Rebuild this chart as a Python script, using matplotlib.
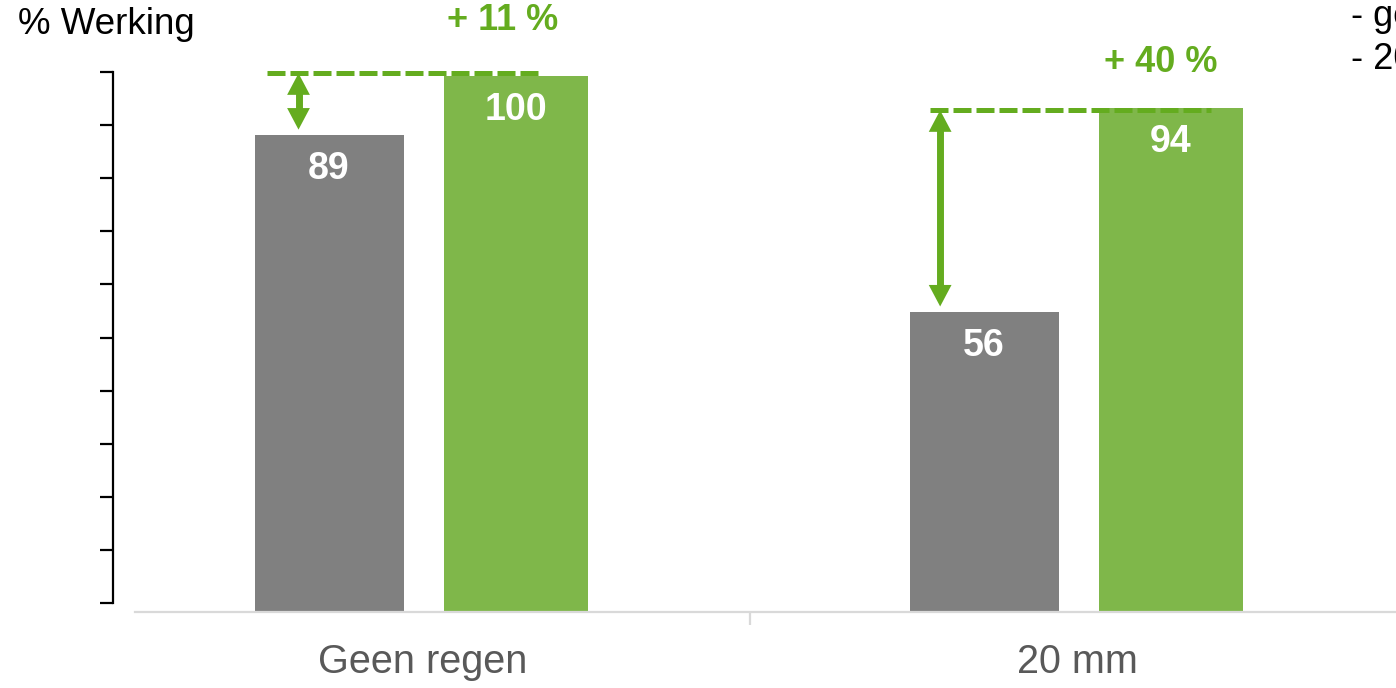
import matplotlib
matplotlib.use("Agg")
import matplotlib.pyplot as plt
from matplotlib.patches import FancyArrowPatch
from matplotlib.patches import ArrowStyle

plt.rcParams['font.family'] = ['Liberation Sans', 'DejaVu Sans']

# ---- data ----
categories = ["Geen regen", "20 mm"]
grey_values = [89, 56]
green_values = [100, 94]
gain_labels = ["+ 11 %", "+ 40 %"]
legend_lines = ["- geen regen", "- 20 mm regen"]
y_axis_title = "% Werking"

# ---- style ----
GREY = "#808080"
GREEN = "#7FB74A"
DARK_GREEN = "#64AC1F"
LABEL_GREY = "#595959"
AXIS_GREY = "#D9D9D9"

W, H = 1396, 688
fig = plt.figure(figsize=(W / 100, H / 100), dpi=100)

# main axes (pixel geometry converted to figure fractions)
left_px, right_px, bottom_px, top_px = 95, 1405, 612, 76
ax = fig.add_axes([left_px / W, (H - bottom_px) / H,
                   (right_px - left_px) / W, (bottom_px - top_px) / H])
ax.set_xlim(-0.5, 1.5)
ax.set_ylim(0, 100)
ax.patch.set_visible(False)

x = list(range(len(categories)))
off = 0.1427
gx = [i - off for i in x]
nx = [i + off for i in x]
ax.bar(gx, grey_values, width=0.2275, color=GREY, zorder=2)
ax.bar(nx, green_values, width=0.22, color=GREEN, zorder=2)

for xs, vals in ((gx, grey_values), (nx, green_values)):
    for xi, v in zip(xs, vals):
        ax.annotate(str(v), (xi, v), xytext=(0, -24.5), textcoords="offset points",
                    ha="center", va="center", color="white", fontsize=27,
                    fontweight="bold", zorder=4)

# dashed reference lines, arrows and gain labels
dash_start = [-0.094, -0.0825]
dash_end = [0.038, 0.061]
dash_dy = [0.5, -0.4]
arrow_off = [-0.0466, -0.067]
label_dy = [40.0, 33.0]
label_dx = [-0.021, -0.016]
HEAD_L = 15.5   # points
HEAD_W = 8.2    # points (half width)
px_per_unit = (bottom_px - top_px) / 100.0
head_units = HEAD_L * 100 / 72 / px_per_unit
for i in x:
    lvl = green_values[i] + dash_dy[i]
    ax.plot([gx[i] + dash_start[i], nx[i] + dash_end[i]], [lvl, lvl],
            color=DARK_GREEN, lw=3.6, linestyle=(0, (3.6, 1.0)),
            solid_capstyle="butt", dash_capstyle="butt", zorder=3, clip_on=False)
    ax_x = gx[i] + arrow_off[i]
    lo, hi = grey_values[i] + 1.0, lvl
    # heads (filled, no stroke)
    style = ArrowStyle("<|-|>", head_length=HEAD_L, head_width=HEAD_W)
    arr = FancyArrowPatch((ax_x, lo), (ax_x, hi), arrowstyle=style,
                          mutation_scale=1, facecolor=DARK_GREEN, edgecolor="none",
                          lw=0, shrinkA=0, shrinkB=0, zorder=3, clip_on=False)
    ax.add_patch(arr)
    # shaft
    ax.plot([ax_x, ax_x], [lo + head_units * 0.8, hi - head_units * 0.8],
            color=DARK_GREEN, lw=5.0, solid_capstyle="butt", zorder=3, clip_on=False)
    ax.annotate(gain_labels[i], (nx[i] + label_dx[i], green_values[i]),
                xytext=(0, label_dy[i]),
                textcoords="offset points", ha="center", va="center",
                color=DARK_GREEN, fontsize=26, fontweight="bold", annotation_clip=False)

# x axis styling
for s in ("top", "right", "left"):
    ax.spines[s].set_visible(False)
ax.spines["bottom"].set_color(AXIS_GREY)
ax.spines["bottom"].set_linewidth(1.6)
ax.spines["bottom"].set_bounds(-0.439, 1.5)
ax.set_yticks([])
ax.set_xticks(x)
ax.set_xticklabels(categories, fontsize=28.5, color=LABEL_GREY)
ax.tick_params(axis="x", which="major", length=0, pad=22)
ax.set_xticks([0.5], minor=True)
ax.tick_params(axis="x", which="minor", length=9.5, width=1.6, color=AXIS_GREY)

# black value axis (separate overlay)
ax2 = fig.add_axes([113 / W, (H - 603) / H, 0.01, (603 - 72) / H])
ax2.set_ylim(0, 100)
ax2.set_yticks(range(0, 101, 10))
ax2.set_yticklabels([])
ax2.set_xticks([])
ax2.patch.set_visible(False)
for s in ("top", "right", "bottom"):
    ax2.spines[s].set_visible(False)
ax2.spines["left"].set_linewidth(1.6)
ax2.tick_params(axis="y", length=9.5, width=1.6, color="black")

fig.text(18 / W, 1 - 24 / H, y_axis_title, fontsize=26.5, color="black",
         ha="left", va="center")
fig.text(1351 / W, 1 - 26 / H, legend_lines[0], fontsize=26, color="black",
         ha="left", va="baseline")
fig.text(1351 / W, 1 - 69 / H, legend_lines[1], fontsize=26, color="black",
         ha="left", va="baseline")

fig.savefig("out.png", dpi=100)
